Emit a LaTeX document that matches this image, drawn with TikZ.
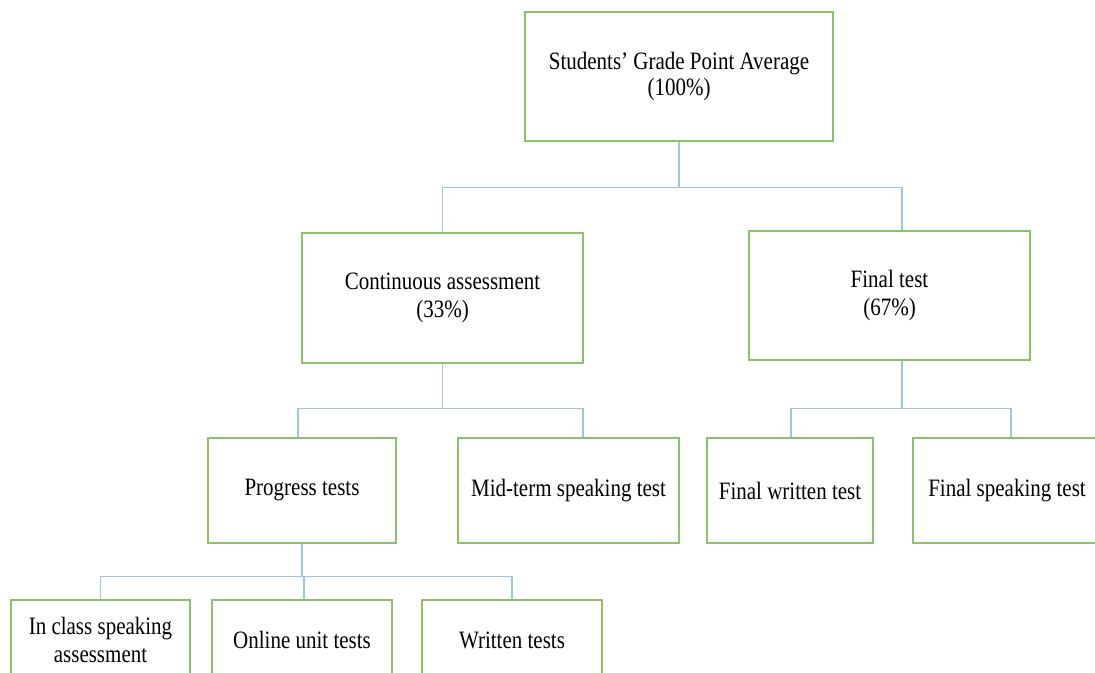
\documentclass[tikz,border=0pt]{standalone}
\usepackage{fontspec}
\setmainfont[FakeStretch=0.84]{Liberation Serif}
\definecolor{boxgreen}{RGB}{140,194,106}
\definecolor{linkblue}{RGB}{160,196,230}
\tikzset{
  card/.style={draw=boxgreen, line width=1.6pt, fill=white, align=center,
    inner sep=0pt, font=\fontsize{25}{28.5}\selectfont},
  link/.style={draw=linkblue, line width=1.2pt},
}
\begin{document}
\begin{tikzpicture}[x=1pt, y=-1pt]
\useasboundingbox (0,0) rectangle (1095,672);
\clip (0,0) rectangle (1095,672);

% level 0
\node[card, minimum width=308pt, minimum height=129pt] (gpa) at (679,76.5)
  {\raisebox{-3pt}{\shortstack{Students’ Grade Point Average\\[1pt](100\%)}}};

% level 1
\node[card, minimum width=281pt, minimum height=130pt] (ca) at (442.5,298)
  {Continuous assessment\\(33\%)};
\node[card, minimum width=281pt, minimum height=129pt] (ft) at (889.5,295.5)
  {Final test\\(67\%)};

% level 2
\node[card, minimum width=188pt, minimum height=105pt] (pt) at (302,490.5) {Progress tests};
\node[card, minimum width=221pt, minimum height=105pt] (mt) at (568.5,490.5) {Mid-term speaking test};
\node[card, minimum width=166pt, minimum height=105pt] (fw) at (790,490.5) {Final written test};
\node[card, minimum width=188pt, minimum height=105pt] (fs) at (1007,490.5) {Final speaking test};

% level 3
\node[card, minimum width=179pt, minimum height=80pt] (ic) at (100.5,640) {In class speaking\\assessment};
\node[card, minimum width=180pt, minimum height=80pt] (ou) at (302,640) {Online unit tests};
\node[card, minimum width=180pt, minimum height=80pt] (wt) at (512,640) {Written tests};

% connectors
\draw[link] (gpa.south) -- ++(0,46) coordinate (busA);
\draw[link] (busA) -| (ca.north);
\draw[link] (busA) -| ([xshift=12.5pt]ft.north);

\draw[link] (ca.south) -- ++(0,45) coordinate (busB);
\draw[link] (busB) -| ([xshift=-4pt]pt.north);
\draw[link] (busB) -| ([xshift=14.5pt]mt.north);

\draw[link] ([xshift=12.5pt]ft.south) -- ++(0,48) coordinate (busC);
\draw[link] (busC) -| ([xshift=1pt]fw.north);
\draw[link] (busC) -| ([xshift=4pt]fs.north);

\draw[link] (pt.south) -- ++(0,33) coordinate (busD);
\draw[link] (busD) -| (ic.north);
\draw[link] (busD) -| ([xshift=2pt]ou.north);
\draw[link] (busD) -| (wt.north);
\end{tikzpicture}
\end{document}
